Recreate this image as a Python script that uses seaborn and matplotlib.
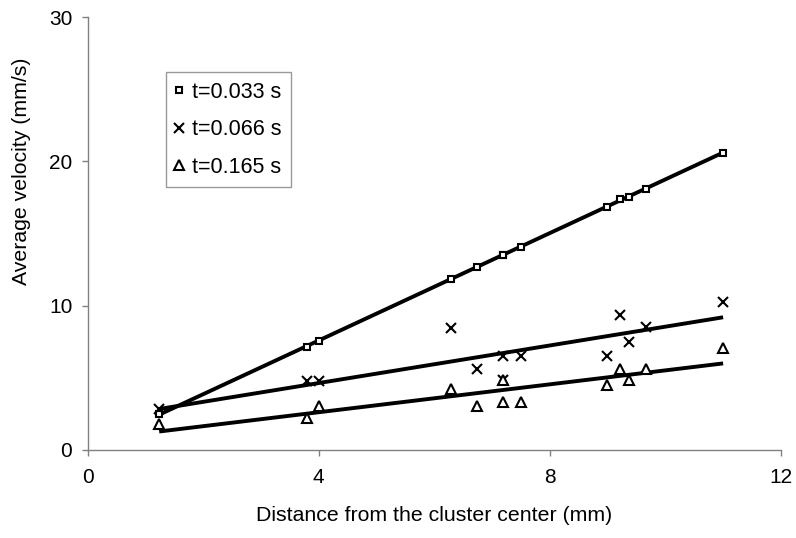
import matplotlib
matplotlib.use("Agg")
import matplotlib.pyplot as plt
import seaborn as sns
import numpy as np
import pandas as pd

# Distance of each tracked particle from the cluster center (mm)
distance = [1.24, 3.80, 4.00, 6.29, 6.74, 7.19, 7.19, 7.50, 8.99, 9.22, 9.37, 9.67, 11.00]

# Average velocity (mm/s) at three time instants
vel_t033 = [2.47, 7.16, 7.58, 11.87, 12.70, 13.54, 13.54, 14.09, 16.86, 17.42, 17.55, 18.09, 20.60]
vel_t066 = [2.84, 4.80, 4.78, 8.48, 5.59, 6.51, 4.85, 6.51, 6.51, 9.36, 7.51, 8.50, 10.26]
vel_t165 = [1.80, 2.24, 3.05, 4.20, 3.05, 4.85, 3.33, 3.33, 4.48, 5.59, 4.85, 5.59, 7.09]

series_labels = ["t=0.033 s", "t=0.066 s", "t=0.165 s"]
x_ticks = [0, 4, 8, 12]
y_ticks = [0, 10, 20, 30]

df = pd.DataFrame({
    "distance": distance * 3,
    "velocity": vel_t033 + vel_t066 + vel_t165,
    "series": np.repeat(series_labels, len(distance)),
})

sns.set_theme(style="ticks")
plt.rcParams["font.family"] = ["Liberation Sans", "DejaVu Sans"]
plt.rcParams["text.color"] = "black"
plt.rcParams["axes.labelcolor"] = "black"
plt.rcParams["xtick.labelcolor"] = "black"
plt.rcParams["ytick.labelcolor"] = "black"

fig = plt.figure(figsize=(7.96, 5.38), dpi=100)
ax = fig.add_axes([0.110, 0.1636, 0.871, 0.8044])

markers = {"t=0.033 s": "s", "t=0.066 s": "x", "t=0.165 s": "^"}
sizes = {"t=0.033 s": 5, "t=0.066 s": 7, "t=0.165 s": 6.5}

for lab in series_labels:
    sub = df[df["series"] == lab]
    # linear trend line over the measured range
    sns.regplot(data=sub, x="distance", y="velocity", ax=ax, scatter=False,
                ci=None, truncate=True, color="black",
                line_kws={"linewidth": 2.8, "solid_capstyle": "butt"})
for lab in series_labels:
    sub = df[df["series"] == lab]
    m = markers[lab]
    ax.plot(sub["distance"], sub["velocity"], linestyle="none", marker=m,
            markersize=sizes[lab],
            markerfacecolor="white" if m != "x" else "black",
            markeredgecolor="black", markeredgewidth=1.5,
            label=lab, zorder=5)

ax.set_xlim(0, 12)
ax.set_ylim(0, 30)
ax.set_xticks(x_ticks)
ax.set_yticks(y_ticks)
ax.tick_params(axis="both", direction="out", length=4, width=1,
               color="#808080", labelsize=15)
ax.tick_params(axis="x", pad=9)
ax.tick_params(axis="y", pad=7)

for side in ["top", "right"]:
    ax.spines[side].set_visible(False)
for side in ["left", "bottom"]:
    ax.spines[side].set_color("#808080")
    ax.spines[side].set_linewidth(1)

ax.set_xlabel("Distance from the cluster center (mm)", fontsize=15.3, labelpad=14)
ax.set_ylabel("Average velocity (mm/s)", fontsize=15.3, va="center")
ax.yaxis.set_label_coords(-0.095, 0.644)

leg = ax.legend(loc="upper left", bbox_to_anchor=(0.113, 0.873),
                borderaxespad=0, frameon=True, fancybox=False, fontsize=15.5,
                handletextpad=0.46, handlelength=0.3, borderpad=0.45,
                labelspacing=0.76, markerscale=1.0)
leg.get_frame().set_edgecolor("#808080")
leg.get_frame().set_linewidth(1)

fig.savefig("out.png", dpi=100)
